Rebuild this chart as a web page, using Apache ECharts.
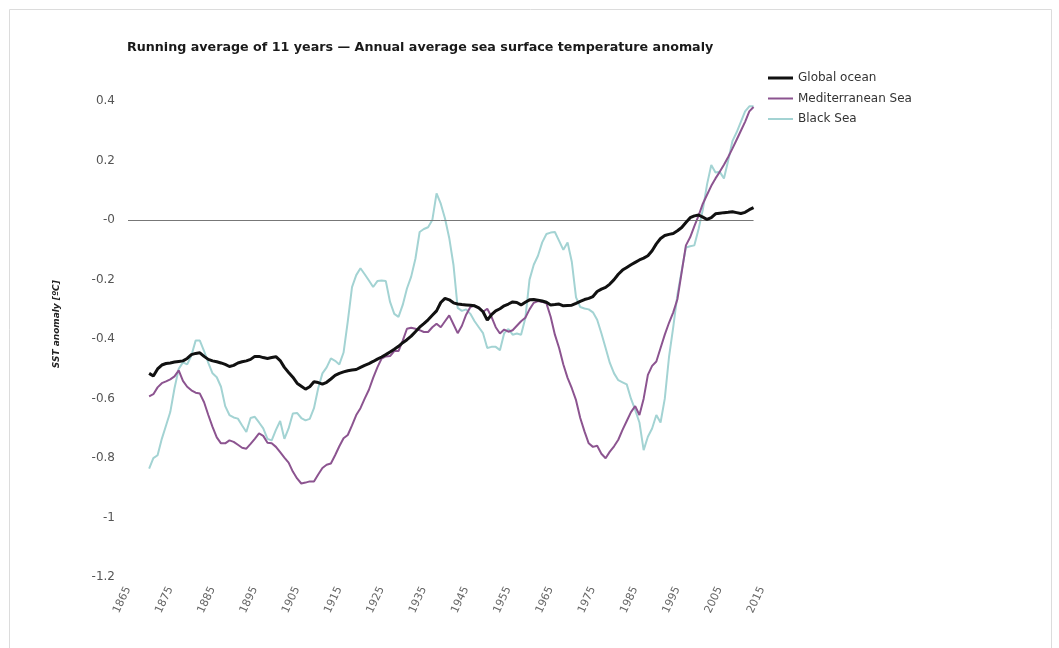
<!DOCTYPE html>
<html>
<head>
<meta charset="utf-8">
<script src="https://cdn.jsdelivr.net/npm/echarts@6/dist/echarts.min.js"></script>
<style>html,body{margin:0;padding:0;background:#fff;}#c{width:1059px;height:648px;}</style>
</head>
<body>
<div id="c"></div>
<script>
const startYear = 1870;
const globalOcean = [
-0.515,-0.524,-0.500,-0.487,-0.482,-0.480,-0.477,-0.475,-0.473,-0.465,
-0.452,-0.448,-0.446,-0.458,-0.468,-0.473,-0.476,-0.480,-0.485,-0.492,
-0.488,-0.480,-0.476,-0.473,-0.468,-0.458,-0.458,-0.462,-0.465,-0.462,
-0.459,-0.472,-0.495,-0.512,-0.528,-0.548,-0.558,-0.568,-0.560,-0.543,
-0.546,-0.551,-0.545,-0.534,-0.522,-0.515,-0.510,-0.506,-0.504,-0.502,
-0.495,-0.488,-0.482,-0.475,-0.467,-0.460,-0.452,-0.443,-0.434,-0.424,
-0.412,-0.402,-0.390,-0.375,-0.360,-0.348,-0.335,-0.320,-0.305,-0.277,
-0.263,-0.268,-0.278,-0.282,-0.284,-0.285,-0.286,-0.288,-0.295,-0.308,
-0.336,-0.318,-0.305,-0.298,-0.288,-0.282,-0.275,-0.277,-0.285,-0.276,
-0.268,-0.267,-0.269,-0.272,-0.276,-0.285,-0.284,-0.282,-0.288,-0.287,
-0.286,-0.280,-0.273,-0.267,-0.263,-0.257,-0.240,-0.232,-0.226,-0.215,
-0.200,-0.182,-0.168,-0.159,-0.150,-0.142,-0.134,-0.128,-0.120,-0.103,
-0.080,-0.062,-0.052,-0.048,-0.045,-0.036,-0.025,-0.008,0.008,0.014,
0.017,0.010,0.002,0.008,0.021,0.023,0.025,0.026,0.028,0.025,
0.022,0.026,0.035,0.042
];
const mediterranean = [
-0.592,-0.585,-0.562,-0.548,-0.542,-0.535,-0.525,-0.505,-0.540,-0.560,
-0.572,-0.580,-0.583,-0.612,-0.655,-0.695,-0.730,-0.750,-0.750,-0.740,
-0.745,-0.755,-0.765,-0.768,-0.752,-0.735,-0.717,-0.725,-0.748,-0.750,
-0.762,-0.780,-0.798,-0.815,-0.845,-0.868,-0.885,-0.882,-0.878,-0.878,
-0.855,-0.833,-0.822,-0.818,-0.790,-0.760,-0.733,-0.722,-0.690,-0.655,
-0.632,-0.600,-0.570,-0.530,-0.495,-0.465,-0.458,-0.457,-0.440,-0.440,
-0.405,-0.365,-0.362,-0.365,-0.370,-0.376,-0.376,-0.360,-0.348,-0.360,
-0.340,-0.320,-0.350,-0.380,-0.355,-0.318,-0.292,-0.287,-0.295,-0.308,
-0.298,-0.325,-0.360,-0.381,-0.368,-0.375,-0.370,-0.355,-0.340,-0.328,
-0.300,-0.278,-0.272,-0.275,-0.280,-0.325,-0.385,-0.430,-0.485,-0.530,
-0.565,-0.605,-0.665,-0.710,-0.750,-0.762,-0.758,-0.785,-0.800,-0.778,
-0.760,-0.738,-0.705,-0.675,-0.645,-0.625,-0.655,-0.600,-0.520,-0.490,
-0.475,-0.430,-0.385,-0.345,-0.310,-0.265,-0.175,-0.085,-0.058,-0.020,
0.015,0.055,0.085,0.115,0.140,0.162,0.186,0.212,0.240,0.270,
0.300,0.330,0.365,0.380
];
const blackSea = [
-0.835,-0.800,-0.790,-0.735,-0.690,-0.645,-0.565,-0.500,-0.478,-0.485,
-0.455,-0.405,-0.405,-0.440,-0.480,-0.515,-0.528,-0.560,-0.625,-0.655,
-0.663,-0.667,-0.690,-0.712,-0.665,-0.661,-0.680,-0.700,-0.735,-0.740,
-0.705,-0.675,-0.735,-0.700,-0.650,-0.648,-0.665,-0.673,-0.668,-0.632,
-0.565,-0.515,-0.495,-0.465,-0.473,-0.485,-0.445,-0.340,-0.225,-0.185,
-0.162,-0.182,-0.203,-0.225,-0.205,-0.203,-0.205,-0.275,-0.315,-0.325,
-0.285,-0.230,-0.190,-0.130,-0.040,-0.030,-0.024,0.000,0.090,0.055,
0.005,-0.060,-0.150,-0.295,-0.305,-0.300,-0.315,-0.340,-0.360,-0.380,
-0.430,-0.426,-0.426,-0.437,-0.380,-0.366,-0.385,-0.381,-0.385,-0.330,
-0.200,-0.150,-0.120,-0.075,-0.047,-0.042,-0.040,-0.070,-0.100,-0.075,
-0.140,-0.260,-0.292,-0.297,-0.300,-0.310,-0.335,-0.380,-0.430,-0.480,
-0.515,-0.538,-0.545,-0.552,-0.600,-0.638,-0.680,-0.773,-0.728,-0.700,
-0.655,-0.680,-0.600,-0.460,-0.360,-0.250,-0.170,-0.092,-0.088,-0.085,
-0.030,0.035,0.120,0.185,0.160,0.162,0.140,0.200,0.265,0.295,
0.330,0.365,0.382,0.382
];
const seriesNames = ['Global ocean', 'Mediterranean Sea', 'Black Sea'];
const xTicks = {min: 1865, max: 2015, interval: 10};
const yTicks = {min: -1.2, max: 0.5, interval: 0.2};

function pairs(arr){ return arr.map((v,i)=>[startYear+i, v]); }
const lastYear = startYear + globalOcean.length - 1;

// legend icons: a horizontal bar inside a 25x14 box (tiny corner dots fix the bounding box)
const boxDots = 'M0,0h0.01v0.01h-0.01Z M24.99,13.99h0.01v0.01h-0.01Z ';
const thickBar = 'path://' + boxDots + 'M0,5.5H25V8.5H0Z';
const thinBar = 'path://' + boxDots + 'M0,6H25V8H0Z';

const chart = echarts.init(document.getElementById('c'), null, {renderer:'canvas'});
const font = "'DejaVu Sans', Verdana, sans-serif";
chart.setOption({
  animation: false,
  backgroundColor: '#fff',
  graphic: [{
    type: 'rect', silent: true,
    shape: {x: 9.5, y: 9.5, width: 1042, height: 700},
    style: {fill: 'none', stroke: '#dcdcdc', lineWidth: 1}
  }],
  title: {
    text: 'Running average of 11 years \u2014 Annual average sea surface temperature anomaly',
    left: 122, top: 36,
    textStyle: {fontFamily: font, fontSize: 12.7, fontWeight: 'bold', color: '#1a1a1a'}
  },
  legend: {
    orient: 'vertical', left: 763, top: 66,
    itemWidth: 25, itemHeight: 14, itemGap: 6.5,
    textStyle: {fontFamily: font, fontSize: 12, color: '#333'},
    data: [
      {name: seriesNames[0], icon: thickBar},
      {name: seriesNames[1], icon: thinBar},
      {name: seriesNames[2], icon: thinBar}
    ]
  },
  grid: {left: 128, right: 297, top: 71.25, bottom: 70.75, containLabel: false},
  xAxis: {
    type: 'value', min: xTicks.min, max: xTicks.max, interval: xTicks.interval,
    axisLine: {show: false}, axisTick: {show: false}, splitLine: {show: false},
    axisLabel: {rotate: 65, margin: 10, fontFamily: font, fontSize: 11, color: '#666', formatter: v => String(v)}
  },
  yAxis: {
    type: 'value', min: yTicks.min, max: yTicks.max, interval: yTicks.interval,
    name: 'SST anomaly [\u00baC]', nameLocation: 'middle', nameGap: 67,
    nameTextStyle: {fontFamily: font, fontSize: 9, fontWeight: 'bold', fontStyle: 'italic', color: '#222'},
    axisLine: {show: false}, axisTick: {show: false}, splitLine: {show: false},
    axisLabel: {
      margin: 13, fontFamily: font, fontSize: 12, color: '#555', showMaxLabel: false,
      formatter: v => { const r = Math.round(v*10)/10; return r === 0 ? '-0' : String(r); }
    }
  },
  series: [
    {
      name: seriesNames[0], type: 'line', data: pairs(globalOcean), symbol: 'none', showSymbol: false,
      lineStyle: {color: '#111', width: 3}, itemStyle: {color: '#111'}, z: 5,
      markLine: {
        silent: true, symbol: ['none','none'], label: {show: false},
        lineStyle: {color: '#777', width: 1, type: 'solid'},
        data: [[{coord: [xTicks.min, 0]}, {coord: [lastYear, 0]}]]
      }
    },
    {
      name: seriesNames[1], type: 'line', data: pairs(mediterranean), symbol: 'none', showSymbol: false,
      lineStyle: {color: '#8c5490', width: 2}, itemStyle: {color: '#8c5490'}, z: 4
    },
    {
      name: seriesNames[2], type: 'line', data: pairs(blackSea), symbol: 'none', showSymbol: false,
      lineStyle: {color: '#a3d3d3', width: 2}, itemStyle: {color: '#a3d3d3'}, z: 3
    }
  ]
});
</script>
</body>
</html>
